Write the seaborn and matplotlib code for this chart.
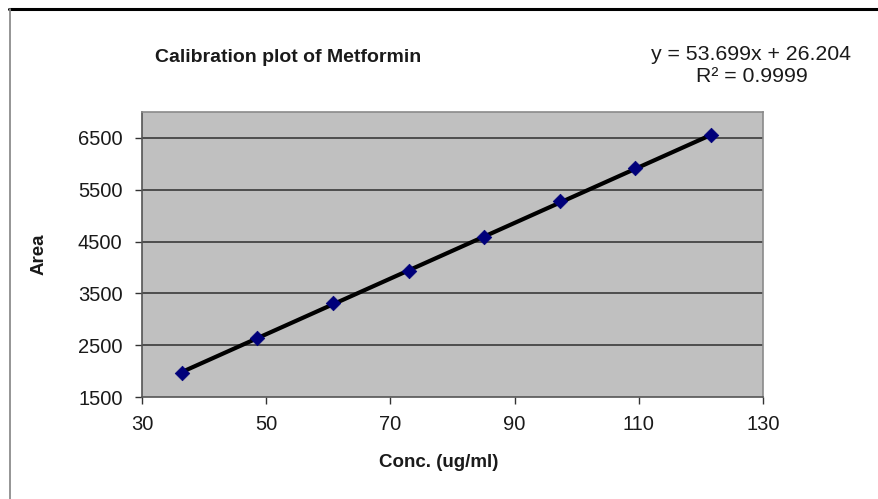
import matplotlib
matplotlib.use("Agg")
import matplotlib.pyplot as plt
from matplotlib.lines import Line2D
import numpy as np
import pandas as pd
import seaborn as sns

# Calibration standards: concentration (ug/ml) and peak area
conc = [36.5, 48.6, 60.8, 73.0, 85.1, 97.3, 109.4, 121.6]
area = [1962, 2637, 3312, 3936, 4580, 5290, 5912, 6548]

# Linear regression reported for the calibration curve
slope = 53.699
intercept = 26.204
r_squared = 0.9999

x_ticks = [30, 50, 70, 90, 110, 130]
y_ticks = [1500, 2500, 3500, 4500, 5500, 6500]

df = pd.DataFrame({"conc": conc, "area": area})
fit_x = np.array([min(conc), max(conc)])
fit_df = pd.DataFrame({"conc": fit_x, "area": slope * fit_x + intercept})

sns.set_theme(style="white")
plt.rcParams["font.family"] = ["Liberation Sans", "DejaVu Sans"]

fig = plt.figure(figsize=(8.79, 4.99), dpi=100)
ax = fig.add_axes([0.1615, 0.2044, 0.7065, 0.5712])
ax.set_facecolor("#c0c0c0")

sns.lineplot(data=fit_df, x="conc", y="area", ax=ax, color="black",
             linewidth=3.0, zorder=3)
sns.scatterplot(data=df, x="conc", y="area", ax=ax, marker="D", s=55,
                color="#00007a", edgecolor="#00007a", linewidth=0.5, zorder=4)

ax.set_xlim(30, 130)
ax.set_ylim(1500, 7000)
ax.set_xticks(x_ticks)
ax.set_yticks(y_ticks)
ax.set_xticklabels([str(t) for t in x_ticks])
ax.set_yticklabels([str(t) for t in y_ticks])

for t in y_ticks[1:]:
    ax.axhline(t, color="#3a3a3a", linewidth=1.2, zorder=1)

for side in ["top", "right"]:
    ax.spines[side].set_color("#8a8a8a")
    ax.spines[side].set_linewidth(1.2)
for side in ["left", "bottom"]:
    ax.spines[side].set_color("#555555")
    ax.spines[side].set_linewidth(1.2)

ax.tick_params(axis="both", which="major", direction="out", length=5,
               width=1.0, color="#333333", labelsize=14.5,
               labelcolor="#1a1a1a", bottom=True, left=True)
ax.tick_params(axis="y", pad=9)
ax.tick_params(axis="x", pad=8)

ax.set_xlabel("Conc. (ug/ml)", fontsize=13.5, fontweight="bold",
              color="#1a1a1a")
ax.xaxis.set_label_coords((439 - 142) / 621, -(454 - 397) / 285)
ax.set_ylabel("Area", fontsize=13.5, fontweight="bold", color="#1a1a1a")
ax.yaxis.set_label_coords(-(142 - 48) / 621, 0.5)

fig.text(155 / 879, 1 - 58 / 499, "Calibration plot of Metformin",
         fontsize=14, fontweight="bold", color="#1a1a1a",
         ha="left", va="center")
fig.text(751 / 879, 1 - 55 / 499, f"y = {slope}x + {intercept}",
         fontsize=15.3, color="#1a1a1a", ha="center", va="center")
fig.text(752 / 879, 1 - 77 / 499, f"R\u00b2 = {r_squared}",
         fontsize=15.3, color="#1a1a1a", ha="center", va="center")

# Outer chart frame
fig.add_artist(Line2D([9 / 879, 1.0], [1 - 8.5 / 499, 1 - 8.5 / 499],
                      transform=fig.transFigure, color="black", linewidth=2.2))
fig.add_artist(Line2D([9.5 / 879, 9.5 / 879], [0.0, 1 - 8.5 / 499],
                      transform=fig.transFigure, color="#8c8c8c", linewidth=1.3))

fig.savefig("out.png", dpi=100, facecolor="white")
